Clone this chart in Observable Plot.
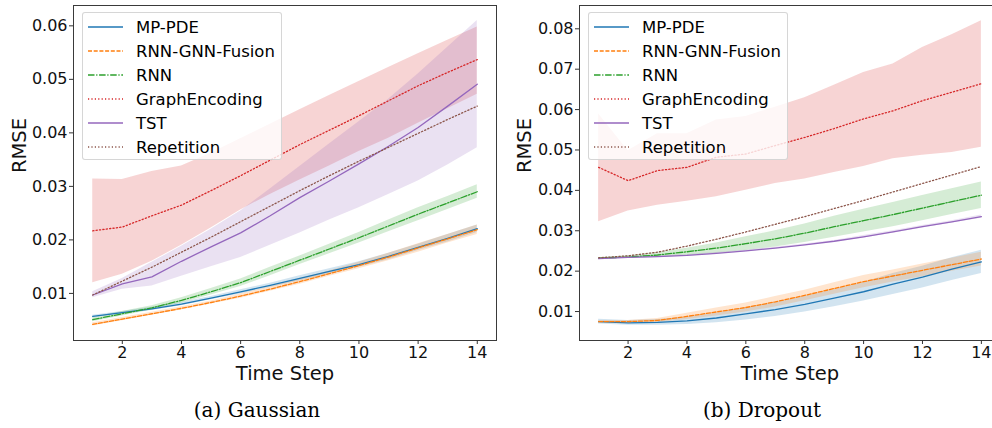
<!DOCTYPE html>
<html>
<head>
<meta charset="utf-8">
<script src="https://cdn.jsdelivr.net/npm/d3@7"></script>
<script src="https://cdn.jsdelivr.net/npm/@observablehq/plot@0.6"></script>
<style>
  html, body { margin: 0; padding: 0; background: #fff; }
  body { width: 992px; height: 428px; overflow: hidden; position: relative; font-family: "DejaVu Sans", sans-serif; }
  .panel { position: absolute; top: 0; height: 390px; }
  .panel svg { max-width: none !important; }
  .legend { position: absolute; top: 12px; height: 148px; background: rgba(255,255,255,0.8); border: 1px solid rgba(204,204,204,0.8); border-radius: 3px; box-sizing: border-box; padding-top: 2px; }
  .legend .row { height: 24px; display: flex; align-items: center; font-size: 16.5px; color: #000; white-space: nowrap; }
  .legend svg { margin-left: 5px; margin-right: 13px; }
  .caption { position: absolute; top: 398px; font-family: "DejaVu Serif", serif; font-size: 20px; color: #000; text-align: center; }
</style>
</head>
<body>
<div id="a" class="panel" style="left:0px;width:497px"></div>
<div id="b" class="panel" style="left:495px;width:506px"></div>
<div id="legA" class="legend" style="left:82px;width:200px"></div>
<div id="legB" class="legend" style="left:588px;width:200px"></div>
<div class="caption" style="left:157px;width:200px">(a) Gaussian</div>
<div class="caption" style="left:662px;width:200px">(b) Dropout</div>
<script>
// ---------- shared ----------
const steps = [1,2,3,4,5,6,7,8,9,10,11,12,13,14];
const xTicks = [2,4,6,8,10,12,14];
const seriesNames = ["MP-PDE","RNN-GNN-Fusion","RNN","GraphEncoding","TST","Repetition"];
const seriesColors = ["#1f77b4","#ff7f0e","#2ca02c","#d62728","#9467bd","#8c564b"];
const seriesDashes = [null,"4,1.7","6.5,1.7,1.2,1.7","1.2,2.2",null,"1.2,2.2"];

// ---------- (a) Gaussian ----------
const gYTicks = [0.01,0.02,0.03,0.04,0.05,0.06];
const gMpMean = [0.0057,0.0064,0.0071,0.0080,0.0091,0.0103,0.0115,0.0128,0.0141,0.0154,0.0169,0.0186,0.0203,0.0221];
const gMpLo   = [0.0055,0.0062,0.0068,0.0077,0.0088,0.0099,0.0111,0.0123,0.0136,0.0149,0.0163,0.0180,0.0196,0.0214];
const gMpHi   = [0.0059,0.0066,0.0074,0.0083,0.0094,0.0107,0.0119,0.0133,0.0146,0.0159,0.0175,0.0192,0.0210,0.0228];
const gFuMean = [0.0042,0.0052,0.0062,0.0072,0.0083,0.0095,0.0108,0.0122,0.0137,0.0152,0.0168,0.0185,0.0202,0.0219];
const gFuLo   = [0.0039,0.0049,0.0059,0.0069,0.0080,0.0091,0.0104,0.0117,0.0132,0.0146,0.0161,0.0177,0.0194,0.0210];
const gFuHi   = [0.0045,0.0055,0.0065,0.0075,0.0086,0.0099,0.0112,0.0127,0.0142,0.0158,0.0175,0.0193,0.0210,0.0228];
const gRnMean = [0.0051,0.0062,0.0073,0.0087,0.0103,0.0120,0.0141,0.0162,0.0183,0.0204,0.0226,0.0248,0.0269,0.0290];
const gRnLo   = [0.0047,0.0058,0.0069,0.0082,0.0097,0.0113,0.0133,0.0154,0.0174,0.0194,0.0215,0.0236,0.0257,0.0278];
const gRnHi   = [0.0055,0.0066,0.0077,0.0092,0.0109,0.0127,0.0149,0.0170,0.0192,0.0214,0.0237,0.0260,0.0281,0.0303];
const gGeMean = [0.0217,0.0224,0.0245,0.0265,0.0292,0.0320,0.0349,0.0378,0.0405,0.0432,0.0460,0.0488,0.0513,0.0537];
const gGeLo   = [0.0120,0.0136,0.0160,0.0190,0.0222,0.0256,0.0285,0.0312,0.0338,0.0365,0.0390,0.0418,0.0445,0.0472];
const gGeHi   = [0.0314,0.0313,0.0328,0.0338,0.0362,0.0389,0.0416,0.0443,0.0470,0.0496,0.0522,0.0548,0.0573,0.0598];
const gTsMean = [0.0097,0.0118,0.0131,0.0160,0.0187,0.0213,0.0245,0.0279,0.0310,0.0342,0.0375,0.0410,0.0450,0.0491];
const gTsLo   = [0.0092,0.0108,0.0114,0.0132,0.0150,0.0167,0.0190,0.0213,0.0237,0.0260,0.0285,0.0310,0.0340,0.0372];
const gTsHi   = [0.0103,0.0128,0.0158,0.0188,0.0220,0.0254,0.0295,0.0337,0.0379,0.0421,0.0463,0.0510,0.0560,0.0610];
const gRpMean = [0.0097,0.0123,0.0149,0.0177,0.0205,0.0234,0.0263,0.0292,0.0320,0.0347,0.0373,0.0399,0.0425,0.0450];

// ---------- (b) Dropout ----------
const dYTicks = [0.01,0.02,0.03,0.04,0.05,0.06,0.07,0.08];
const dMpMean = [0.0075,0.0072,0.0073,0.0077,0.0084,0.0094,0.0105,0.0118,0.0133,0.0149,0.0168,0.0185,0.0205,0.0223];
const dMpLo   = [0.0069,0.0066,0.0066,0.0068,0.0072,0.0079,0.0088,0.0099,0.0112,0.0126,0.0142,0.0158,0.0177,0.0194];
const dMpHi   = [0.0081,0.0078,0.0080,0.0086,0.0096,0.0109,0.0122,0.0137,0.0154,0.0172,0.0194,0.0212,0.0233,0.0252];
const dFuMean = [0.0075,0.0075,0.0078,0.0088,0.0099,0.0110,0.0124,0.0140,0.0157,0.0174,0.0188,0.0202,0.0216,0.0230];
const dFuLo   = [0.0072,0.0072,0.0073,0.0080,0.0089,0.0099,0.0111,0.0127,0.0143,0.0159,0.0173,0.0186,0.0200,0.0213];
const dFuHi   = [0.0078,0.0078,0.0083,0.0096,0.0109,0.0121,0.0137,0.0153,0.0171,0.0189,0.0203,0.0218,0.0232,0.0247];
const dRnMean = [0.0232,0.0235,0.0240,0.0248,0.0257,0.0268,0.0280,0.0294,0.0310,0.0325,0.0340,0.0356,0.0372,0.0388];
const dRnLo   = [0.0231,0.0232,0.0234,0.0239,0.0244,0.0251,0.0260,0.0271,0.0284,0.0297,0.0310,0.0325,0.0340,0.0355];
const dRnHi   = [0.0233,0.0238,0.0246,0.0257,0.0270,0.0285,0.0300,0.0317,0.0336,0.0353,0.0370,0.0387,0.0404,0.0421];
const dGeMean = [0.0457,0.0424,0.0449,0.0457,0.0482,0.0490,0.0511,0.0531,0.0553,0.0577,0.0597,0.0622,0.0643,0.0664];
const dGeLo   = [0.0322,0.0349,0.0363,0.0373,0.0384,0.0400,0.0417,0.0428,0.0444,0.0459,0.0478,0.0487,0.0494,0.0507];
const dGeHi   = [0.0589,0.0498,0.0540,0.0540,0.0574,0.0583,0.0606,0.0629,0.0660,0.0692,0.0713,0.0754,0.0785,0.0820];
const dTsMean = [0.0231,0.0234,0.0236,0.0239,0.0244,0.0250,0.0257,0.0265,0.0274,0.0285,0.0297,0.0310,0.0322,0.0335];
const dTsLo   = [0.0229,0.0232,0.0234,0.0237,0.0242,0.0248,0.0255,0.0263,0.0272,0.0282,0.0294,0.0307,0.0319,0.0331];
const dTsHi   = [0.0233,0.0236,0.0238,0.0241,0.0246,0.0252,0.0259,0.0267,0.0276,0.0288,0.0300,0.0313,0.0325,0.0339];
const dRpMean = [0.0233,0.0238,0.0247,0.0262,0.0279,0.0297,0.0316,0.0335,0.0355,0.0375,0.0396,0.0417,0.0438,0.0459];

function rows(mean, lo, hi) {
  return steps.map((t, i) => ({t, v: mean[i], lo: lo ? lo[i] : null, hi: hi ? hi[i] : null}));
}

function makePanel(sets, yDomain, yTicks, opts) {
  const marks = [];
  sets.forEach((d, i) => {
    if (d[0].lo != null) marks.push(Plot.areaY(d, {x: "t", y1: "lo", y2: "hi", fill: seriesColors[i], fillOpacity: 0.2}));
  });
  sets.forEach((d, i) => {
    marks.push(Plot.lineY(d, {x: "t", y: "v", stroke: seriesColors[i], strokeWidth: 1.3, strokeDasharray: seriesDashes[i]}));
  });
  marks.push(Plot.frame({stroke: "#3a3a3a", strokeWidth: 1}));
  marks.push(Plot.axisX({ticks: xTicks, tickSize: 4, tickPadding: 2, label: null, stroke: "#333", fill: "#111"}));
  marks.push(Plot.axisY({ticks: yTicks, tickSize: 4, tickPadding: 2, tickFormat: d3.format(".2f"), label: null, stroke: "#333", fill: "#111"}));
  marks.push(Plot.text(["Time Step"], {frameAnchor: "bottom", dy: 39, lineAnchor: "bottom", fontSize: 19.5, fill: "#111"}));
  marks.push(Plot.text(["RMSE"], {frameAnchor: "left", dx: opts.labelDx, rotate: -90, fontSize: 19.5, fill: "#111"}));
  return Plot.plot({
    width: opts.width, height: 390,
    marginLeft: opts.marginLeft, marginRight: 1, marginTop: 5, marginBottom: 50,
    style: {fontFamily: "DejaVu Sans", fontSize: "16px", background: "transparent", overflow: "visible", maxWidth: "none"},
    x: {domain: [0.35, 14.65]},
    y: {domain: yDomain},
    marks
  });
}

const setsA = [rows(gMpMean,gMpLo,gMpHi), rows(gFuMean,gFuLo,gFuHi), rows(gRnMean,gRnLo,gRnHi),
               rows(gGeMean,gGeLo,gGeHi), rows(gTsMean,gTsLo,gTsHi), rows(gRpMean)];
const setsB = [rows(dMpMean,dMpLo,dMpHi), rows(dFuMean,dFuLo,dFuHi), rows(dRnMean,dRnLo,dRnHi),
               rows(dGeMean,dGeLo,dGeHi), rows(dTsMean,dTsLo,dTsHi), rows(dRpMean)];

document.getElementById("a").append(makePanel(setsA, [0.0012, 0.0638], gYTicks, {width: 497, marginLeft: 73, labelDx: -54}));
document.getElementById("b").append(makePanel(setsB, [0.00283, 0.08577], dYTicks, {width: 506, marginLeft: 84, labelDx: -55}));

function buildLegend(id) {
  const el = document.getElementById(id);
  seriesNames.forEach((name, i) => {
    const row = document.createElement("div");
    row.className = "row";
    const dash = seriesDashes[i] ? ` stroke-dasharray="${seriesDashes[i]}"` : "";
    row.innerHTML = `<svg width="35" height="6"><line x1="0" y1="3" x2="35" y2="3" stroke="${seriesColors[i]}" stroke-width="1.3"${dash}/></svg><span>${name}</span>`;
    el.append(row);
  });
}
buildLegend("legA");
buildLegend("legB");
</script>
</body>
</html>
